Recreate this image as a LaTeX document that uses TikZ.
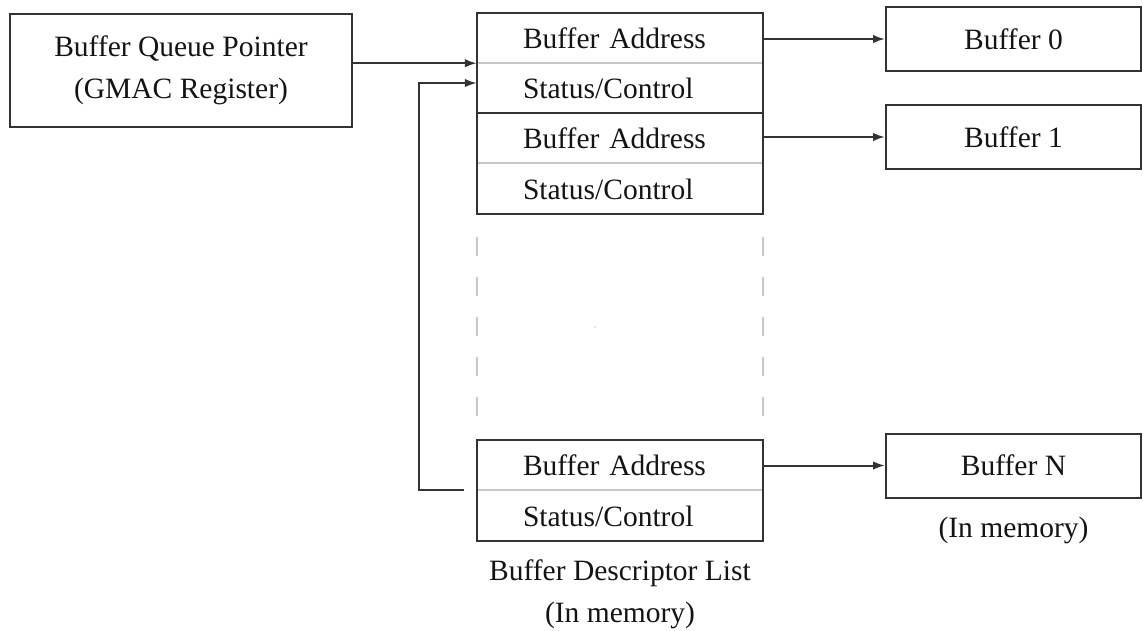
\documentclass[tikz,border=0pt]{standalone}
\usepackage{fontspec}
\setmainfont{Liberation Serif}
\usetikzlibrary{arrows.meta,calc}
\definecolor{edge}{HTML}{333333}
\definecolor{divider}{HTML}{C8C8C8}
\definecolor{ink}{HTML}{141414}
\tikzset{
  base/.style={font=\fontsize{29.5}{42}\selectfont, text=ink},
  regbox/.style={base, draw=edge, line width=2pt, minimum width=342pt, minimum height=113pt, align=center, inner sep=0pt},
  rowcell/.style={base, minimum width=286pt, minimum height=50pt, text width=194pt, inner xsep=46pt, inner ysep=0pt, align=left},
  bufbox/.style={base, draw=edge, line width=2pt, minimum width=255pt, minimum height=64pt, inner sep=0pt},
  caption/.style={base, align=center, inner sep=0pt},
  outline/.style={draw=edge, line width=2pt},
  thinrule/.style={draw=divider, line width=1.5pt},
  dashrule/.style={draw=divider, line width=1.5pt, dash pattern=on 19pt off 21pt},
  link/.style={draw=edge, line width=2pt, -{Latex[length=12pt,width=8.5pt]}}
}
\begin{document}
\begin{tikzpicture}[x=1pt,y=-1pt]
\useasboundingbox (0,0) rectangle (1143,630);

% register holding the queue pointer
\node[regbox] (qp) at (181,70.5) {Buffer Queue Pointer\\(GMAC Register)};

% first two descriptors
\node[rowcell] (d0a) at (620,38)  {Buffer Address};
\node[rowcell] (d0b) at (620,88)  {Status/Control};
\node[rowcell] (d1a) at (620,138) {Buffer Address};
\node[rowcell] (d1b) at (620,189) {Status/Control};
\draw[thinrule] (d0a.south west) -- (d0a.south east);
\draw[thinrule] (d1a.south west) -- (d1a.south east);
\draw[outline] (d0b.south west) -- (d0b.south east);
\draw[outline] (d0a.north west) rectangle (d1b.south east);

% elided middle of the list
\draw[dashrule] (477,237) -- (477,417);
\draw[dashrule] (763,237) -- (763,417);
\fill[divider] (595,327) circle (0.8);

% last descriptor
\node[rowcell] (dNa) at (620,465) {Buffer Address};
\node[rowcell] (dNb) at (620,516) {Status/Control};
\draw[thinrule] (dNa.south west) -- (dNa.south east);
\draw[outline] (dNa.north west) rectangle (dNb.south east);

\node[caption] (lst) at (620,594) {Buffer Descriptor List\\(In memory)};

% data buffers
\node[bufbox] (b0) at (1013.5,39)    {Buffer 0};
\node[bufbox] (b1) at (1013.5,137)   {Buffer 1};
\node[bufbox] (bN) at (1013.5,465.5) {Buffer N};
\node[caption] (mem) at (1013.5,530) {(In memory)};

% pointers
\draw[link] (qp.east |- d0a.south west) -- (d0a.south west);
\draw[link] (d0a.east |- b0.west) -- (b0.west);
\draw[link] (d1a.east |- b1.west) -- (b1.west);
\draw[link] (dNa.east |- bN.west) -- (bN.west);

% wrap-around from the last descriptor to the first
\coordinate (ret) at ($(dNa.south west)+(-13,0)$);
\draw[link] (ret) -- ++(-45,0) |- ($(d0b.west)+(0,-5)$);
\end{tikzpicture}
\end{document}
